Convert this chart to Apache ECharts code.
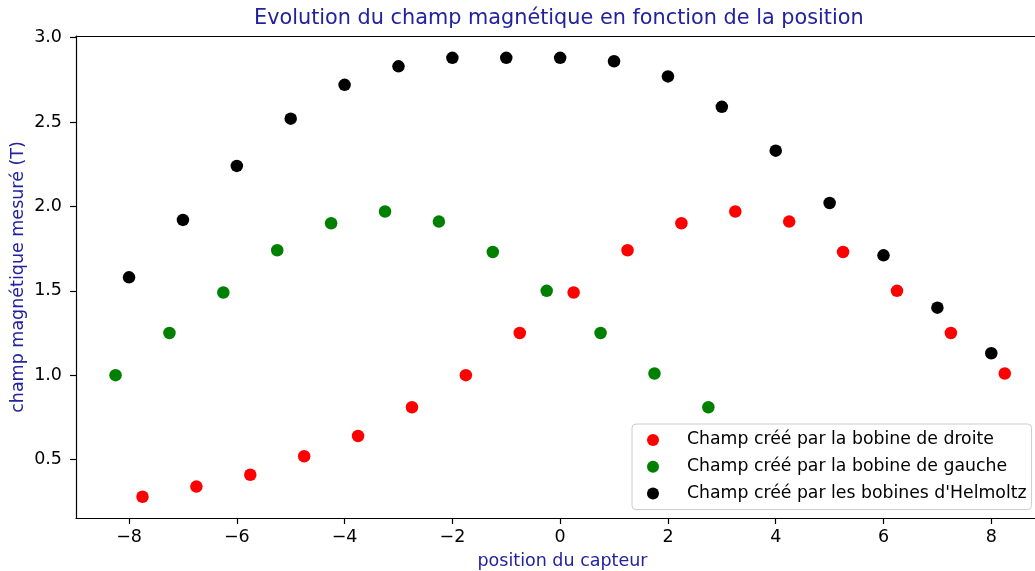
<!DOCTYPE html>
<html><head><meta charset="utf-8">
<script src="https://cdn.jsdelivr.net/npm/echarts@6/dist/echarts.min.js"></script>
<style>html,body{margin:0;padding:0;background:#fff}#c{width:1035px;height:571px}</style>
</head><body><div id="c"></div>
<script>
const titleText = "Evolution du champ magnétique en fonction de la position";
const xName = "position du capteur";
const yName = "champ magnétique mesuré (T)";
const legendNames = ["Champ créé par la bobine de droite", "Champ créé par la bobine de gauche", "Champ créé par les bobines d'Helmoltz"];

const xDroite = [-7.75,-6.75,-5.75,-4.75,-3.75,-2.75,-1.75,-0.75,0.25,1.25,2.25,3.25,4.25,5.25,6.25,7.25,8.25];
const yDroite = [0.28,0.34,0.41,0.52,0.64,0.81,1.00,1.25,1.49,1.74,1.90,1.97,1.91,1.73,1.50,1.25,1.01];
const xGauche = [-8.25,-7.25,-6.25,-5.25,-4.25,-3.25,-2.25,-1.25,-0.25,0.75,1.75,2.75];
const yGauche = [1.00,1.25,1.49,1.74,1.90,1.97,1.91,1.73,1.50,1.25,1.01,0.81];
const xHelm = [-8,-7,-6,-5,-4,-3,-2,-1,0,1,2,3,4,5,6,7,8];
const yHelm = [1.58,1.92,2.24,2.52,2.72,2.83,2.88,2.88,2.88,2.86,2.77,2.59,2.33,2.02,1.71,1.40,1.13];

const xTicks = [-8,-6,-4,-2,0,2,4,6,8];
const yTicks = [0.5,1.0,1.5,2.0,2.5,3.0];

const font = "DejaVu Sans";
const blue = "#2222a0";
const fs = 17.5;
const pair = (xs, ys) => xs.map((x, i) => [x, ys[i]]);
const fmtX = v => v < 0 ? "\u2212" + Math.abs(v) : String(v);

const chart = echarts.init(document.getElementById('c'), null, {renderer: 'canvas'});
chart.setOption({
  animation: false,
  backgroundColor: '#fff',
  textStyle: {fontFamily: font},
  title: {
    text: titleText, left: 254, top: 8, padding: 0,
    textStyle: {fontFamily: font, fontSize: 20.8, fontWeight: 'normal', color: blue}
  },
  grid: {left: 76, right: 0, top: 36, bottom: 53, containLabel: false, outerBoundsMode: 'none'},
  legend: {
    orient: 'vertical', left: 632, top: 424,
    data: legendNames,
    icon: 'circle', itemWidth: 12, itemHeight: 12, itemGap: 8.8,
    padding: [7, 5, 7, 15],
    borderColor: '#cccccc', borderWidth: 1, borderRadius: 4,
    backgroundColor: 'rgba(255,255,255,0.8)',
    textStyle: {fontFamily: font, fontSize: 17.3, lineHeight: 18, color: '#000', padding: [0,0,0,23]}
  },
  xAxis: [{
    type: 'value', min: -8.984, max: 8.811, position: 'bottom',
    name: xName, nameLocation: 'middle', nameGap: 34, nameMoveOverlap: false,
    nameTextStyle: {fontFamily: font, fontSize: fs, color: blue, padding: [0,0,0,14]},
    splitLine: {show: false},
    axisLine: {show: true, onZero: false, lineStyle: {color: '#000', width: 1.2}},
    axisTick: {show: true, length: 6, customValues: xTicks, lineStyle: {color: '#000', width: 1.2}},
    axisLabel: {customValues: xTicks, formatter: fmtX, margin: 10, fontSize: fs, color: '#000', fontFamily: font}
  }, {
    type: 'value', min: -8.984, max: 8.811, position: 'top',
    splitLine: {show: false},
    axisLine: {show: true, onZero: false, lineStyle: {color: '#000', width: 1.2}},
    axisTick: {show: false}, axisLabel: {show: false}
  }],
  yAxis: {
    type: 'value', min: 0.154, max: 3.0095,
    name: yName, nameLocation: 'middle', nameGap: 49, nameRotate: 90, nameMoveOverlap: false,
    nameTextStyle: {fontFamily: font, fontSize: fs, color: blue},
    splitLine: {show: false},
    axisLine: {show: true, onZero: false, lineStyle: {color: '#000', width: 1.2}},
    axisTick: {show: true, length: 6, customValues: yTicks, lineStyle: {color: '#000', width: 1.2}},
    axisLabel: {customValues: yTicks, formatter: v => v.toFixed(1), margin: 14, fontSize: fs, color: '#000', fontFamily: font}
  },
  series: [
    {name: legendNames[0], type: 'scatter', xAxisIndex: 0, symbolSize: 12.5, itemStyle: {color: '#ff0000', opacity: 1}, data: pair(xDroite, yDroite)},
    {name: legendNames[1], type: 'scatter', xAxisIndex: 0, symbolSize: 12.5, itemStyle: {color: '#008000', opacity: 1}, data: pair(xGauche, yGauche)},
    {name: legendNames[2], type: 'scatter', xAxisIndex: 0, symbolSize: 12.5, itemStyle: {color: '#000000', opacity: 1}, data: pair(xHelm, yHelm)}
  ]
});
</script></body></html>
